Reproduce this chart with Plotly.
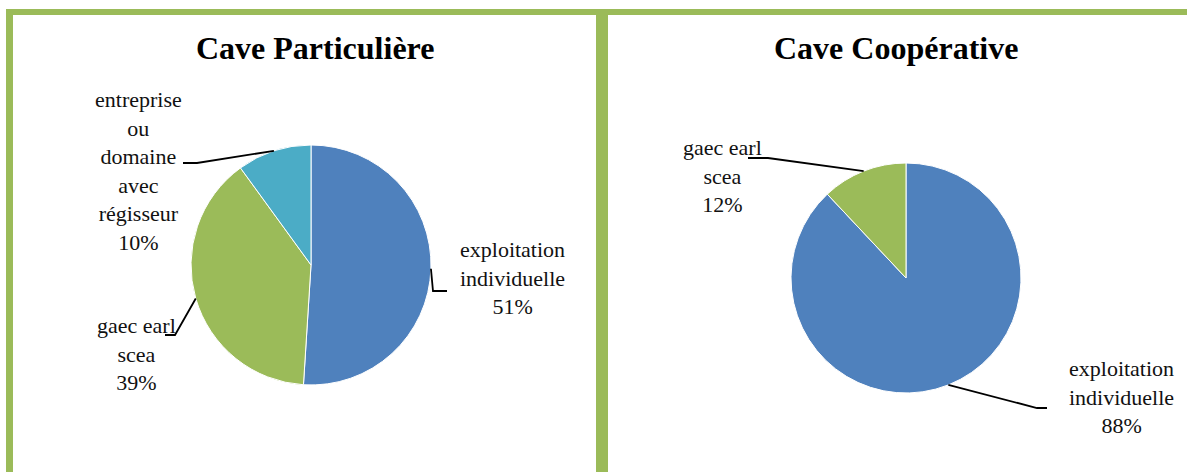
import math
import plotly.graph_objects as go

W, H = 1187, 472

# ---- data ----
titles = ["Cave Particulière", "Cave Coopérative"]
left_labels = ["exploitation individuelle", "gaec earl scea", "entreprise ou domaine avec régisseur"]
left_values = [51, 39, 10]
left_text = ["exploitation<br>individuelle", "gaec earl<br>scea", "entreprise<br>ou<br>domaine<br>avec<br>régisseur"]
right_labels = ["exploitation individuelle", "gaec earl scea"]
right_values = [88, 12]
right_text = ["exploitation<br>individuelle", "gaec earl<br>scea"]

BLUE, GREEN, CYAN = "#4F81BD", "#9BBB59", "#4BACC6"
FRAME = "#9BBB59"
FONT = "Liberation Serif"

def px(x):
    return x / W

def py(y):
    return 1 - y / H

# pie geometry (pixels): center and radius
pies = [
    dict(cx=311, cy=265, r=120),
    dict(cx=906, cy=278, r=115),
]

# label layout (pixels) : label center, elbow point, end point
left_layout = [
    dict(lx=512, ly=278, elbow=(433, 291), end=(447, 291)),
    dict(lx=136, ly=354, elbow=(175, 335), end=(165, 335)),
    dict(lx=138, ly=171, elbow=(197, 163), end=(183, 163)),
]
right_layout = [
    dict(lx=1121, ly=397, elbow=(1037, 408), end=(1047, 408)),
    dict(lx=722, ly=176, elbow=(768, 158), end=(748, 158)),
]

fig = go.Figure()

def add_pie(values, labels, colors, geo):
    cx, cy, r = geo["cx"], geo["cy"], geo["r"]
    fig.add_trace(go.Pie(
        values=values, labels=labels, sort=False, direction="clockwise", rotation=0,
        marker=dict(colors=colors, line=dict(color="white", width=1)),
        textinfo="none", hoverinfo="label+percent", showlegend=False,
        domain=dict(x=[px(cx - r), px(cx + r)], y=[py(cy + r), py(cy - r)]),
    ))

add_pie(left_values, left_labels, [BLUE, GREEN, CYAN], pies[0])
add_pie(right_values, right_labels, [BLUE, GREEN], pies[1])

shapes = []
annotations = []

def add_labels(values, texts, geo, layout):
    total = sum(values)
    cum = 0
    for v, t, lay in zip(values, texts, layout):
        mid = (cum + v / 2) / total * 2 * math.pi
        cum += v
        ax = geo["cx"] + geo["r"] * math.sin(mid)
        ay = geo["cy"] - geo["r"] * math.cos(mid)
        ex, ey = lay["elbow"]
        fx, fy = lay["end"]
        path = f"M {px(ax)},{py(ay)} L {px(ex)},{py(ey)} L {px(fx)},{py(fy)}"
        shapes.append(dict(type="path", xref="paper", yref="paper", path=path,
                           line=dict(color="black", width=1.8)))
        pct = round(v / total * 100)
        annotations.append(dict(
            x=px(lay["lx"]), y=py(lay["ly"]), xref="paper", yref="paper",
            text=f"{t}<br>{pct}%", showarrow=False, xanchor="center", yanchor="middle",
            align="center", font=dict(family=FONT, size=22, color="#111111"),
        ))

add_labels(left_values, left_text, pies[0], left_layout)
add_labels(right_values, right_text, pies[1], right_layout)

# titles
for t, x in zip(titles, [315, 896]):
    annotations.append(dict(
        x=px(x), y=py(48), xref="paper", yref="paper", text=f"<b>{t}</b>",
        showarrow=False, xanchor="center", yanchor="middle",
        font=dict(family=FONT, size=32, color="black"),
    ))

# green frames
frame_rects = [
    (6, 9, W, 15),      # top band
    (6, 9, 13, H),      # left band
    (596, 9, 608, H),   # middle band
]
for x0, y0, x1, y1 in frame_rects:
    shapes.append(dict(type="rect", xref="paper", yref="paper",
                       x0=px(x0), x1=px(x1), y0=py(y1), y1=py(y0),
                       fillcolor=FRAME, line=dict(width=0), layer="below"))

fig.update_layout(
    width=W, height=H, margin=dict(l=0, r=0, t=0, b=0),
    paper_bgcolor="white", plot_bgcolor="white",
    shapes=shapes, annotations=annotations,
)

fig.write_html("out.html", config={"displayModeBar": False},
               post_script="document.body.style.margin='0';document.body.style.overflow='hidden';")
